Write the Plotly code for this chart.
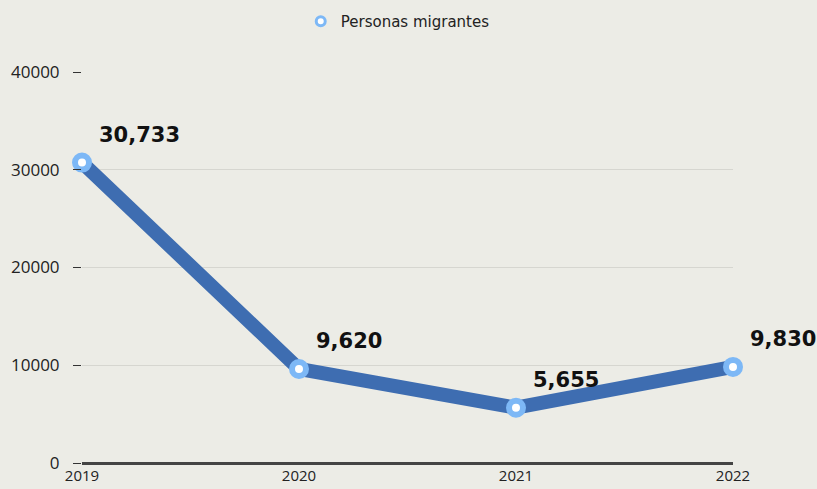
import plotly.graph_objects as go

# data
years = [2019, 2020, 2021, 2022]
migrantes = [30733, 9620, 5655, 9830]
labels = ["30,733", "9,620", "5,655", "9,830"]
y_ticks = [0, 10000, 20000, 30000, 40000]

bg = "#ecece6"
line_col = "#3e6db1"
ring_col = "#7db8f6"

line = go.Scatter(
    x=years, y=migrantes, mode="lines",
    line=dict(color=line_col, width=14),
    showlegend=False, cliponaxis=False, hoverinfo="skip",
)
points = go.Scatter(
    x=years, y=migrantes, mode="markers",
    marker=dict(size=14, color="white", line=dict(color=ring_col, width=6)),
    showlegend=False, cliponaxis=False,
)
legend_item = go.Scatter(
    x=[None], y=[None], mode="markers", name="Personas migrantes",
    marker=dict(size=9, color="white", line=dict(color=ring_col, width=3)),
)

annotations = [
    dict(x=x, y=y, text="<b>%s</b>" % t, showarrow=False,
         xanchor="left", yanchor="middle", xshift=15, yshift=28,
         font=dict(family="DejaVu Sans", size=21, color="#111"))
    for x, y, t in zip(years, migrantes, labels)
]

layout = go.Layout(
    width=817, height=489,
    paper_bgcolor=bg, plot_bgcolor=bg,
    margin=dict(l=82, r=84, t=72, b=26),
    font=dict(family="Open Sans", size=15, color="#222"),
    showlegend=True,
    legend=dict(orientation="h", x=0.485, xanchor="center", y=0.99, yanchor="top",
                yref="container", font=dict(family="DejaVu Sans", size=15, color="#222"),
                bgcolor="rgba(0,0,0,0)"),
    xaxis=dict(range=[2019, 2022], tickvals=years, showgrid=False,
               zeroline=False, showline=False, ticks="", automargin=False,
               ticklabelstandoff=2, tickfont=dict(size=15)),
    yaxis=dict(range=[0, 40000], tickvals=y_ticks, tickformat="d", showgrid=True,
               gridcolor="#d6d6d0", gridwidth=1, automargin=False,
               zeroline=True, zerolinecolor="#444", zerolinewidth=3,
               ticks="outside", ticklen=8, tickcolor="#333",
               ticklabelstandoff=10, tickfont=dict(size=17)),
    annotations=annotations,
)

fig = go.Figure(data=[line, points, legend_item], layout=layout)
fig.write_html("out.html", config={"displayModeBar": False},
               post_script="document.body.style.margin='0';")
